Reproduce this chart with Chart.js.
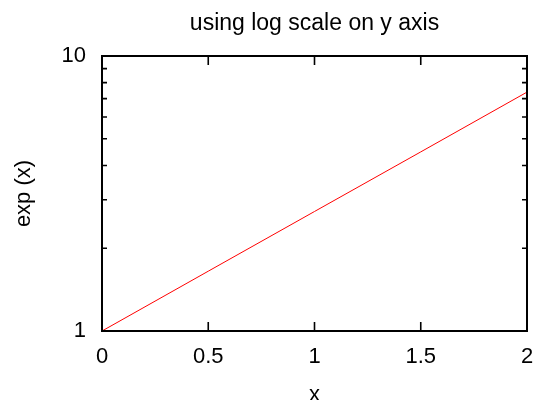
<!DOCTYPE html>
<html>
<head>
<meta charset="utf-8">
<script src="https://cdn.jsdelivr.net/npm/chart.js@4"></script>
<style>
  html, body { margin: 0; padding: 0; background: #fff; }
  #wrap { width: 537px; height: 400px; }
</style>
</head>
<body>
<div id="wrap"><canvas id="grafico" width="537" height="400"></canvas></div>
<script>
// values: exp(x) on a log y axis
const xValores = [0, 0.5, 1, 1.5, 2];
const yValores = [1, 1.65, 2.72, 4.48, 7.39];

const xTicks = [0, 0.5, 1, 1.5, 2];
const yTicks = [1, 10];
const yMinorTicks = [2, 3, 4, 5, 6, 7, 8, 9];

const fonte = 'Liberation Sans, Arial, Helvetica, sans-serif';

// frame + inward ticks on all four sides, like gnuplot
const molduraPlugin = {
  id: 'moldura',
  afterDraw(chart) {
    const ctx = chart.ctx;
    const a = chart.chartArea;
    const sx = chart.scales.x;
    const sy = chart.scales.y;
    ctx.save();
    ctx.strokeStyle = '#000';
    ctx.lineWidth = 1.6;
    ctx.beginPath();
    xTicks.forEach((v) => {
      const px = sx.getPixelForValue(v);
      ctx.moveTo(px, a.bottom); ctx.lineTo(px, a.bottom - 9);
      ctx.moveTo(px, a.top); ctx.lineTo(px, a.top + 9);
    });
    yTicks.forEach((v) => {
      const py = sy.getPixelForValue(v);
      ctx.moveTo(a.left, py); ctx.lineTo(a.left + 9, py);
      ctx.moveTo(a.right, py); ctx.lineTo(a.right - 9, py);
    });
    yMinorTicks.forEach((v) => {
      const py = sy.getPixelForValue(v);
      ctx.moveTo(a.left, py); ctx.lineTo(a.left + 5, py);
      ctx.moveTo(a.right, py); ctx.lineTo(a.right - 5, py);
    });
    ctx.stroke();
    ctx.lineWidth = 2;
    ctx.strokeRect(a.left, a.top, a.right - a.left, a.bottom - a.top);
    ctx.restore();
  }
};

const ctxGrafico = document.getElementById('grafico').getContext('2d');

let meuGrafico = new Chart(ctxGrafico, {
  type: 'line',
  data: {
    datasets: [{
      data: xValores.map((x, i) => ({ x: x, y: yValores[i] })),
      borderColor: '#ff0000',
      borderWidth: 1,
      pointRadius: 0,
      fill: false,
      tension: 0
    }]
  },
  options: {
    responsive: false,
    animation: false,
    layout: { padding: { left: 0, right: 10, top: 0, bottom: 0 } },
    plugins: {
      legend: { display: false },
      tooltip: { enabled: false },
      title: {
        display: true,
        fullSize: false,
        text: 'using log scale on y axis',
        color: '#000',
        font: { family: fonte, size: 23, weight: 'normal', lineHeight: 1.2 },
        padding: { top: 9.5, bottom: 18.9 }
      }
    },
    scales: {
      x: {
        type: 'linear',
        min: 0,
        max: 2,
        afterBuildTicks: (s) => { s.ticks = xTicks.map((v) => ({ value: v })); },
        afterFit: (s) => { s.height = 69; s.paddingLeft = 0; s.paddingRight = 0; },
        grid: { display: false, drawTicks: false },
        border: { display: false },
        ticks: {
          color: '#000',
          padding: 13,
          maxRotation: 0,
          font: { family: fonte, size: 22 },
          callback: (v) => String(v)
        },
        title: {
          display: true,
          text: 'x',
          color: '#000',
          font: { family: fonte, size: 22, lineHeight: 1 },
          padding: { top: 0, bottom: -6 }
        }
      },
      y: {
        type: 'logarithmic',
        min: 1,
        max: 10,
        afterBuildTicks: (s) => { s.ticks = yTicks.map((v) => ({ value: v })); },
        afterFit: (s) => { s.width = 102; s.paddingTop = 0; s.paddingBottom = 0; },
        grid: { display: false, drawTicks: false },
        border: { display: false },
        ticks: {
          color: '#000',
          padding: 16,
          font: { family: fonte, size: 22 },
          callback: (v) => String(v)
        },
        title: {
          display: true,
          text: 'exp (x)',
          color: '#000',
          font: { family: fonte, size: 22, lineHeight: 1.2 },
          padding: { top: 11, bottom: 0 }
        }
      }
    }
  },
  plugins: [molduraPlugin]
});
</script>
</body>
</html>
